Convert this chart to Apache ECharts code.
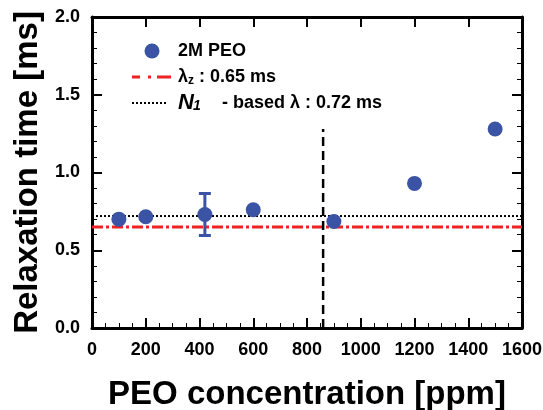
<!DOCTYPE html>
<html>
<head>
<meta charset="utf-8">
<script src="https://cdn.jsdelivr.net/npm/echarts@6/dist/echarts.min.js"></script>
</head>
<body style="margin:0;background:#fff">
<div style="position:relative;width:543px;height:410px">
	<div id="frame" style="position:absolute;left:0;top:0;width:543px;height:410px"></div>
	<div id="chart" style="position:absolute;left:0;top:0;width:543px;height:410px"></div>
</div>
<script>
	/*-----data-----*/
	var concentration = [100, 200, 420, 600, 900, 1200, 1500];
	var relaxTime = [0.70, 0.715, 0.73, 0.76, 0.685, 0.93, 1.28];
	// [x, low, high]
	var errorBars = [[420, 0.595, 0.865]];
	var lambdaZ = 0.65;
	var lambdaN1 = 0.72;
	var xRange = [0, 1600];
	var critConc = 860;
	var critLine = [0, 1.28];

	var font = '"Liberation Sans", Arial, sans-serif';
	var blue = '#3a53a4';

	var points = concentration.map(function(c, i) {
		return [c, relaxTime[i]];
	});

	/*-----frame: inside ticks on all four sides-----*/
	var frame = echarts.init(document.getElementById('frame'));
	frame.setOption({
		animation: false,
		grid: { left: 92, right: 21, top: 17, bottom: 82, outerBoundsMode: 'none' },
		xAxis: [{
			type: 'value', min: 0, max: 1600, interval: 200, position: 'bottom',
			axisTick: { show: true, inside: true, length: 10, lineStyle: { color: '#000', width: 2 } },
			minorTick: { show: true, splitNumber: 4, length: 5, lineStyle: { color: '#000' } },
			axisLabel: { show: false },
			splitLine: { show: false }
		}, {
			type: 'value', min: 0, max: 1600, interval: 200, position: 'top',
			axisLine: { onZero: false },
			axisTick: { show: true, inside: true, length: 10, lineStyle: { color: '#000', width: 2 } },
			minorTick: { show: true, splitNumber: 4, length: 5, lineStyle: { color: '#000' } },
			axisLabel: { show: false },
			splitLine: { show: false }
		}],
		yAxis: [{
			type: 'value', min: 0, max: 2, interval: 0.5, position: 'left',
			axisLine: { show: true },
			axisTick: { show: true, inside: true, length: 10, lineStyle: { color: '#000', width: 2 } },
			minorTick: { show: true, splitNumber: 5, length: 5, lineStyle: { color: '#000' } },
			axisLabel: { show: false },
			splitLine: { show: false }
		}, {
			type: 'value', min: 0, max: 2, interval: 0.5, position: 'right',
			axisLine: { show: true, onZero: false },
			axisTick: { show: true, inside: true, length: 10, lineStyle: { color: '#000', width: 2 } },
			minorTick: { show: true, splitNumber: 5, length: 5, lineStyle: { color: '#000' } },
			axisLabel: { show: false },
			splitLine: { show: false }
		}],
		series: [{ type: 'scatter', data: [[100, 0.7]], symbolSize: 0 }]
	});

	/*-----thick frame lines, labels, series, legend-----*/
	function lineAxis(extra) {
		var ax = {
			type: 'value',
			axisLine: { show: true, onZero: false, lineStyle: { color: '#000', width: 3 } },
			axisTick: { show: false },
			splitLine: { show: false }
		};
		return Object.assign(ax, extra);
	}
	var chart = echarts.init(document.getElementById('chart'));
	var option = {
		animation: false,
		grid: { left: 92, right: 21, top: 17, bottom: 82, outerBoundsMode: 'none' },
		xAxis: [
			lineAxis({
				min: 0, max: 1600, interval: 200, position: 'bottom',
				name: 'PEO concentration [ppm]',
				nameLocation: 'middle',
				nameGap: 50,
				nameTextStyle: { fontFamily: font, fontWeight: 'bold', fontSize: 33, color: '#000' },
				axisLabel: {
					margin: 13, fontFamily: font, fontWeight: 'bold', fontSize: 18, color: '#000',
					formatter: function(v) { return String(v); }
				}
			}),
			lineAxis({ min: 0, max: 1600, interval: 200, position: 'top', axisLabel: { show: false } })
		],
		yAxis: [
			lineAxis({
				min: 0, max: 2, interval: 0.5, position: 'left',
				name: 'Relaxation time [ms]',
				nameLocation: 'middle',
				nameGap: 40,
				nameTextStyle: { fontFamily: font, fontWeight: 'bold', fontSize: 33, color: '#000' },
				axisLabel: {
					margin: 12, fontFamily: font, fontWeight: 'bold', fontSize: 18, color: '#000',
					formatter: function(v) { return v.toFixed(1); }
				}
			}),
			lineAxis({ min: 0, max: 2, interval: 0.5, position: 'right', axisLabel: { show: false } })
		],
		series: [{
			name: 'lambdaZ',
			type: 'line',
			symbol: 'none',
			data: [[xRange[0], lambdaZ], [xRange[1], lambdaZ]],
			lineStyle: { color: '#ee2222', width: 3, type: [11, 3, 3, 3] },
			z: 3
		}, {
			name: 'lambdaN1',
			type: 'line',
			symbol: 'none',
			data: [[xRange[0], lambdaN1], [xRange[1], lambdaN1]],
			lineStyle: { color: '#000', width: 2, type: [2, 2] },
			z: 3
		}, {
			name: 'critical',
			type: 'line',
			symbol: 'none',
			data: [[critConc, critLine[0]], [critConc, critLine[1]]],
			lineStyle: { color: '#000', width: 2.5, type: [9, 5] },
			z: 3
		}, {
			name: 'errorBar',
			type: 'custom',
			data: errorBars,
			renderItem: function(params, api) {
				var lo = api.coord([api.value(0), api.value(1)]);
				var hi = api.coord([api.value(0), api.value(2)]);
				var cap = 6;
				var st = { stroke: blue, lineWidth: 3 };
				return {
					type: 'group',
					children: [
						{ type: 'line', shape: { x1: lo[0], y1: lo[1], x2: hi[0], y2: hi[1] }, style: st },
						{ type: 'line', shape: { x1: lo[0] - cap, y1: lo[1], x2: lo[0] + cap, y2: lo[1] }, style: st },
						{ type: 'line', shape: { x1: hi[0] - cap, y1: hi[1], x2: hi[0] + cap, y2: hi[1] }, style: st }
					]
				};
			},
			z: 4
		}, {
			name: '2M PEO',
			type: 'scatter',
			symbol: 'circle',
			symbolSize: 15,
			data: points,
			itemStyle: { color: blue, opacity: 1 },
			z: 5
		}],
		graphic: [
			/*-----legend-----*/
			{ type: 'circle', shape: { cx: 152, cy: 51, r: 7.5 }, style: { fill: blue } },
			{ type: 'text', style: { x: 178, y: 51, verticalAlign: 'middle', text: '2M PEO', font: 'bold 18px ' + font, fill: '#000' } },
			{ type: 'line', shape: { x1: 132, y1: 77, x2: 172, y2: 77 }, style: { stroke: '#ee2222', lineWidth: 3, lineDash: [8, 8, 3, 6, 14, 10] } },
			{ type: 'text', style: { x: 178, y: 77, verticalAlign: 'middle', text: 'λ', font: 'bold 18px ' + font, fill: '#000' } },
			{ type: 'text', style: { x: 188, y: 81, verticalAlign: 'middle', text: 'z', font: 'bold 12px ' + font, fill: '#000' } },
			{ type: 'text', style: { x: 199, y: 77, verticalAlign: 'middle', text: ': 0.65 ms', font: 'bold 18px ' + font, fill: '#000' } },
			{ type: 'line', shape: { x1: 132, y1: 103, x2: 168, y2: 103 }, style: { stroke: '#000', lineWidth: 2, lineDash: [2, 2] } },
			{ type: 'text', style: { x: 178, y: 103, verticalAlign: 'middle', text: 'N', font: 'italic bold 22px ' + font, fill: '#000' } },
			{ type: 'text', style: { x: 193, y: 106, verticalAlign: 'middle', text: '1', font: 'italic bold 14px ' + font, fill: '#000' } },
			{ type: 'text', style: { x: 222, y: 103, verticalAlign: 'middle', text: '- based λ : 0.72 ms', font: 'bold 18px ' + font, fill: '#000' } }
		]
	};
	chart.setOption(option);
</script>
</body>
</html>
